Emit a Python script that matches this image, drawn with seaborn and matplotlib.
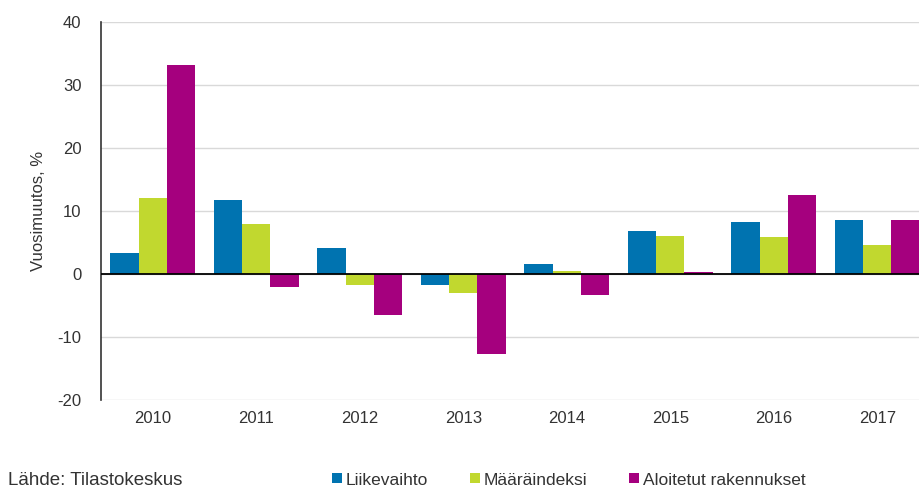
import pandas as pd
import numpy as np
import matplotlib.pyplot as plt
import seaborn as sns
from matplotlib.lines import Line2D

years = ['2010', '2011', '2012', '2013', '2014', '2015', '2016', '2017']
liikevaihto = [3.3, 11.8, 4.1, -1.7, 1.6, 6.9, 8.2, 8.5]
maaraindeksi = [12.0, 7.9, -1.7, -3.0, 0.5, 6.1, 5.9, 4.6]
aloitetut = [33.2, -2.0, -6.5, -12.7, -3.4, 0.3, 12.5, 8.5]
series_names = ['Liikevaihto', 'Määräindeksi', 'Aloitetut rakennukset']
colors = ['#0073b0', '#c1d82f', '#a5007e']

df = pd.DataFrame({'Vuosi': years * 3,
                   'Sarja': np.repeat(series_names, len(years)),
                   'Muutos': liikevaihto + maaraindeksi + aloitetut})

sns.set_style('white')
plt.rcParams['font.family'] = ['Liberation Sans', 'DejaVu Sans']
plt.rcParams['font.size'] = 12
plt.rcParams['axes.unicode_minus'] = False
txt = '#333333'

fig = plt.figure(figsize=(9.19, 4.91), dpi=100)
ax = fig.add_axes([101 / 919, 91 / 491, 828 / 919, 378 / 491])

sns.barplot(data=df, x='Vuosi', y='Muutos', hue='Sarja', hue_order=series_names,
            palette=colors, width=0.82, linewidth=0, saturation=1, ax=ax,
            legend=False, zorder=3)

ax.set_xlim(-0.5, 7.5)
ax.set_ylim(-20, 40)
ax.set_yticks(range(-20, 41, 10))
ax.yaxis.grid(True, color='#d9d9d9', linewidth=1, zorder=0)
ax.axhline(0, color='black', linewidth=1.3, zorder=4)
for s in ['top', 'right', 'bottom']:
    ax.spines[s].set_visible(False)
ax.spines['left'].set_color('#333333')
ax.spines['left'].set_linewidth(1.2)
ax.tick_params(axis='both', length=0, labelsize=12, colors=txt)
ax.tick_params(axis='y', pad=14)
ax.tick_params(axis='x', pad=8)
ax.set_xlabel('')
ax.set_ylabel('Vuosimuutos, %', fontsize=12, color=txt, labelpad=8)

fig.text(8 / 919, 1 - 485 / 491, 'Lähde: Tilastokeskus', fontsize=13.5,
         color=txt, va='baseline', ha='left')

handles = [Line2D([], [], marker='s', linestyle='none', markersize=7,
                  markerfacecolor=c, markeredgewidth=0) for c in colors]
fig.legend(handles, series_names, loc='center left',
           bbox_to_anchor=(318 / 919, 1 - 480 / 491), ncol=3, frameon=False,
           fontsize=12.5, labelcolor=txt, handletextpad=0.1,
           columnspacing=2.3, handlelength=0.8, borderpad=0.2)

fig.savefig('out.png', dpi=100)
